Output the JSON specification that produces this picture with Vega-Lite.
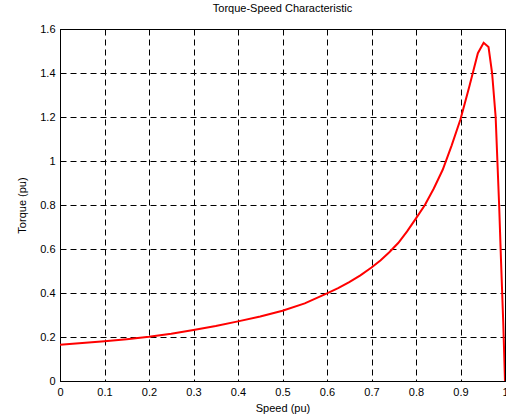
{
  "$schema": "https://vega.github.io/schema/vega-lite/v6.json",
  "width": 445,
  "height": 352,
  "autosize": {"type": "none"},
  "padding": {"left": 60, "top": 29, "right": 1, "bottom": 38},
  "background": "white",
  "title": {"text": "Torque-Speed Characteristic", "fontSize": 11, "fontWeight": "normal", "font": "Liberation Sans", "color": "#000", "offset": 9, "anchor": "middle"},
  "config": {
    "font": "Liberation Sans",
    "view": {"stroke": "#000", "strokeWidth": 1},
    "axis": {
      "domainColor": "#000",
      "grid": true,
      "gridColor": "#000",
      "gridDash": [6, 4],
      "gridOpacity": 1,
      "gridWidth": 1,
      "tickSize": 0,
      "labelFontSize": 11,
      "labelColor": "#000",
      "titleFontSize": 11,
      "titleFontWeight": "normal",
      "titleColor": "#000",
      "labelPadding": 5
    }
  },
  "data": {
    "values": [
      {"s": 0.0, "T": 0.165},
      {"s": 0.05, "T": 0.173},
      {"s": 0.1, "T": 0.181},
      {"s": 0.15, "T": 0.19},
      {"s": 0.2, "T": 0.201},
      {"s": 0.25, "T": 0.215},
      {"s": 0.3, "T": 0.232},
      {"s": 0.35, "T": 0.25},
      {"s": 0.4, "T": 0.271},
      {"s": 0.45, "T": 0.293},
      {"s": 0.5, "T": 0.319},
      {"s": 0.55, "T": 0.353},
      {"s": 0.6, "T": 0.398},
      {"s": 0.625, "T": 0.422},
      {"s": 0.65, "T": 0.449},
      {"s": 0.675, "T": 0.48},
      {"s": 0.7, "T": 0.516},
      {"s": 0.72, "T": 0.548},
      {"s": 0.74, "T": 0.585},
      {"s": 0.76, "T": 0.627},
      {"s": 0.78, "T": 0.68},
      {"s": 0.8, "T": 0.739},
      {"s": 0.82, "T": 0.8},
      {"s": 0.84, "T": 0.875},
      {"s": 0.86, "T": 0.96},
      {"s": 0.88, "T": 1.07},
      {"s": 0.9, "T": 1.19},
      {"s": 0.92, "T": 1.34},
      {"s": 0.939, "T": 1.49},
      {"s": 0.952, "T": 1.537},
      {"s": 0.963, "T": 1.518},
      {"s": 0.971, "T": 1.4},
      {"s": 0.979, "T": 1.2},
      {"s": 0.987, "T": 0.79},
      {"s": 0.991, "T": 0.55},
      {"s": 0.996, "T": 0.27},
      {"s": 1.0, "T": 0.0}
    ]
  },
  "mark": {"type": "line", "color": "#ff0000", "strokeWidth": 2, "clip": true},
  "encoding": {
    "x": {
      "field": "s", "type": "quantitative", "title": "Speed (pu)",
      "scale": {"domain": [0, 1], "nice": false, "zero": false},
      "axis": {"values": [0, 0.1, 0.2, 0.3, 0.4, 0.5, 0.6, 0.7, 0.8, 0.9, 1], "format": "~g", "titlePadding": 5, "labelFlush": false}
    },
    "y": {
      "field": "T", "type": "quantitative", "title": "Torque (pu)",
      "scale": {"domain": [0, 1.6], "nice": false},
      "axis": {"values": [0, 0.2, 0.4, 0.6, 0.8, 1, 1.2, 1.4, 1.6], "format": "~g", "titlePadding": 12}
    }
  }
}
